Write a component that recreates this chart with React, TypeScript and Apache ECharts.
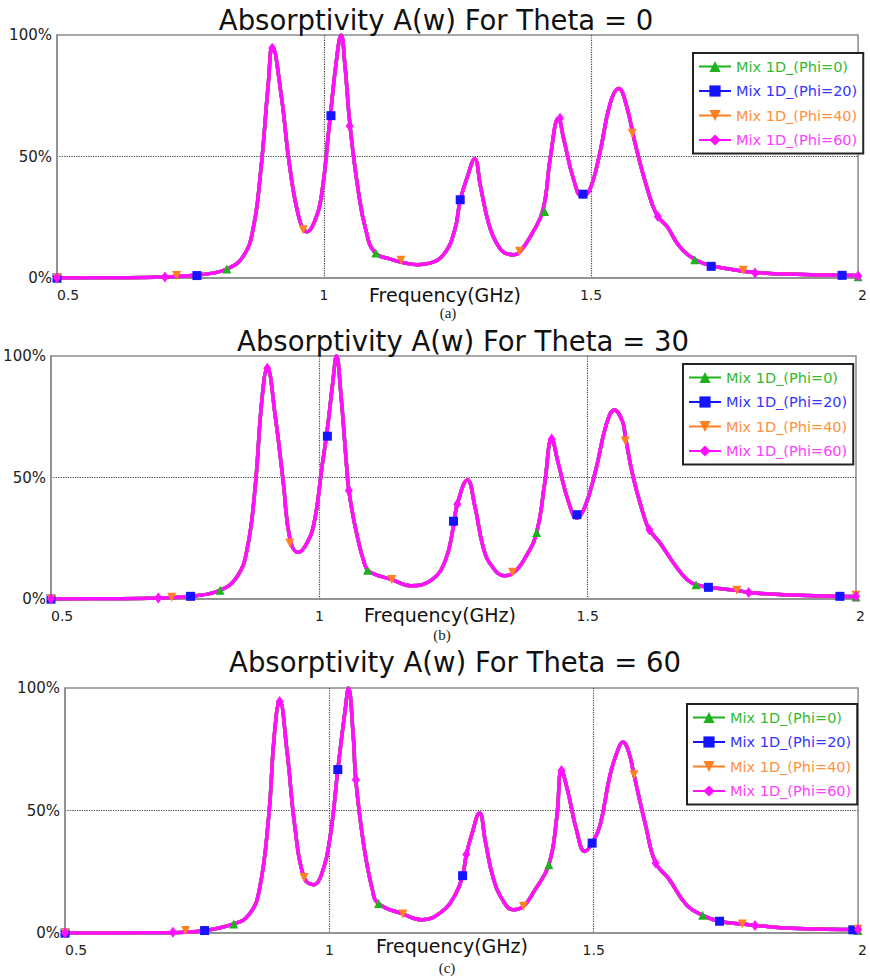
import React, { useEffect, useRef } from "react";
import * as echarts from "echarts";

// ---------- texts ----------
const seriesNames = ["Mix 1D_(Phi=0)", "Mix 1D_(Phi=20)", "Mix 1D_(Phi=40)", "Mix 1D_(Phi=60)"];
const panelTitles = [
  "Absorptivity A(w) For Theta = 0",
  "Absorptivity A(w) For Theta = 30",
  "Absorptivity A(w) For Theta = 60",
];
const panelCaptions = ["(a)", "(b)", "(c)"];
const xAxisTitle = "Frequency(GHz)";

// ---------- axes ----------
const freqMin = 0.5;
const freqMax = 2.0;
const freqStep = 0.5;
const absMin = 0;
const absMax = 100;
const absStep = 50;

// ---------- curves (frequency GHz, absorptivity %) ----------
const curveTheta0: [number, number][] = [
  [0.5, 0], [0.6, 0.1], [0.7, 0.4], [0.77, 1.4], [0.818, 3.7], [0.849, 9], [0.867, 20], [0.881, 43],
  [0.896, 81], [0.903, 95.5], [0.92, 75], [0.935, 47], [0.954, 24], [0.968, 19], [0.981, 22.6],
  [0.995, 33.6], [1.009, 61], [1.024, 91], [1.032, 100], [1.039, 88], [1.049, 62], [1.064, 36],
  [1.078, 20], [1.095, 10.5], [1.124, 7.8], [1.156, 6], [1.175, 5.5], [1.196, 6], [1.225, 10],
  [1.245, 20], [1.255, 32], [1.269, 42], [1.282, 49], [1.293, 37.7], [1.308, 22.6], [1.323, 14.4],
  [1.342, 10], [1.356, 9.6], [1.366, 10.5], [1.39, 18.5], [1.41, 28], [1.424, 50], [1.439, 65.7],
  [1.449, 57], [1.468, 40], [1.483, 33.6], [1.497, 36], [1.516, 51], [1.536, 72], [1.552, 78],
  [1.565, 72], [1.584, 54], [1.604, 37.7], [1.623, 26], [1.643, 21], [1.662, 14], [1.681, 9.6],
  [1.71, 6], [1.759, 3.7], [1.807, 2.3], [1.885, 1.5], [2.0, 1.0],
];
const curveTheta30: [number, number][] = [
  [0.5, 0], [0.6, 0.1], [0.7, 0.4], [0.76, 1.1], [0.815, 3.6], [0.847, 9.3], [0.865, 20], [0.88, 45],
  [0.893, 82], [0.903, 95], [0.918, 75], [0.933, 47.7], [0.945, 25], [0.96, 19.2], [0.975, 22.3],
  [0.99, 31], [1.005, 54.5], [1.015, 70], [1.025, 89], [1.032, 100], [1.04, 84.7], [1.05, 57],
  [1.055, 44.7], [1.068, 28.5], [1.085, 14], [1.095, 11], [1.135, 8], [1.17, 5.5], [1.21, 8],
  [1.235, 16], [1.25, 30], [1.257, 39], [1.276, 49], [1.29, 38], [1.305, 21.6], [1.32, 14],
  [1.345, 9.6], [1.36, 10.5], [1.385, 17.5], [1.405, 27.4], [1.42, 47.7], [1.433, 65.8], [1.445, 56],
  [1.465, 39.5], [1.48, 33.3], [1.495, 38], [1.515, 53], [1.535, 72], [1.55, 77.8], [1.565, 73],
  [1.57, 67], [1.585, 50], [1.605, 34], [1.615, 28.5], [1.635, 23], [1.66, 14.8], [1.685, 8],
  [1.702, 5.9], [1.725, 4.8], [1.778, 3.6], [1.8, 2.7], [1.88, 1.6], [1.97, 1.1], [2.0, 1.0],
];
const curveTheta60: [number, number][] = [
  [0.5, 0], [0.6, 0.05], [0.7, 0.1], [0.764, 1], [0.819, 3.7], [0.848, 7.5], [0.867, 17], [0.885, 47],
  [0.896, 81], [0.906, 94.8], [0.92, 74], [0.935, 43], [0.952, 22.7], [0.97, 19.7], [0.985, 23.8],
  [1.002, 40], [1.016, 66.7], [1.031, 93], [1.036, 100], [1.045, 81], [1.05, 62.6], [1.064, 37.4],
  [1.081, 18], [1.093, 12], [1.139, 7.8], [1.175, 5.4], [1.213, 8.8], [1.238, 15.6], [1.252, 23.4],
  [1.259, 32], [1.269, 40], [1.284, 49], [1.295, 37.4], [1.31, 22.4], [1.329, 13], [1.348, 9.5],
  [1.367, 10.9], [1.387, 17], [1.415, 27.9], [1.43, 47], [1.439, 66.3], [1.451, 57.8], [1.468, 41.5],
  [1.483, 33.3], [1.497, 36.7], [1.512, 44], [1.531, 64.6], [1.547, 75.5], [1.555, 78], [1.566, 74],
  [1.576, 64.6], [1.598, 44], [1.617, 28.6], [1.641, 22.4], [1.675, 11.6], [1.706, 7.2], [1.738, 4.8],
  [1.781, 3.7], [1.805, 3.1], [1.887, 1.8], [2.0, 1.4],
];

// ---------- marker points of each series ----------
const markersTheta0Phi0: [number, number][] = [[0.5, 0], [0.818, 3.7], [1.097, 10.3], [1.413, 27.4], [1.694, 7.5], [2.0, 0.5]];
const markersTheta0Phi20: [number, number][] = [[0.5, 0], [0.762, 1.0], [1.013, 66.8], [1.255, 32.2], [1.485, 34.5], [1.725, 4.8], [1.97, 1.1]];
const markersTheta0Phi40: [number, number][] = [[0.5, 0], [0.724, 1.0], [0.961, 19.9], [1.144, 7.3], [1.366, 11], [1.577, 59.6], [1.785, 3.2]];
const markersTheta0Phi60: [number, number][] = [[0.5, 0], [0.702, 0.4], [0.903, 94.5], [1.048, 62.6], [1.442, 65.7], [1.625, 25.3], [1.807, 2.1], [2.0, 0.8]];

const markersTheta30Phi0: [number, number][] = [[0.5, 0], [0.815, 3.6], [1.09, 11.8], [1.405, 27.4], [1.702, 5.9], [2.0, 0.8]];
const markersTheta30Phi20: [number, number][] = [[0.5, 0], [0.76, 1.1], [1.015, 67], [1.25, 32], [1.48, 34.7], [1.725, 4.8], [1.97, 1.1]];
const markersTheta30Phi40: [number, number][] = [[0.5, 0], [0.725, 0.7], [0.945, 23], [1.135, 8], [1.36, 11], [1.57, 65], [1.778, 3.6], [2.0, 1.5]];
const markersTheta30Phi60: [number, number][] = [[0.5, 0], [0.7, 0.4], [0.903, 95], [1.055, 44.7], [1.257, 39], [1.433, 65.8], [1.615, 28.5], [1.8, 2.7], [2.0, 1.0]];

const markersTheta60Phi0: [number, number][] = [[0.5, 0], [0.819, 3.7], [1.093, 12], [1.415, 27.9], [1.706, 7.2], [2.0, 1.0]];
const markersTheta60Phi20: [number, number][] = [[0.5, 0], [0.764, 1], [1.016, 66.7], [1.252, 23.4], [1.497, 36.7], [1.738, 4.8], [1.99, 1.3]];
const markersTheta60Phi40: [number, number][] = [[0.5, 0], [0.728, 1.0], [0.952, 22.7], [1.139, 7.8], [1.367, 10.9], [1.576, 64.6], [1.781, 3.7], [2.0, 1.5]];
const markersTheta60Phi60: [number, number][] = [[0.5, 0], [0.704, 0.3], [0.906, 94.5], [1.05, 62.6], [1.259, 32], [1.439, 66.3], [1.617, 28.6], [1.805, 3.1], [2.0, 1.4]];

const panelCurves = [curveTheta0, curveTheta30, curveTheta60];
const panelMarkers = [
  [markersTheta0Phi0, markersTheta0Phi20, markersTheta0Phi40, markersTheta0Phi60],
  [markersTheta30Phi0, markersTheta30Phi20, markersTheta30Phi40, markersTheta30Phi60],
  [markersTheta60Phi0, markersTheta60Phi20, markersTheta60Phi40, markersTheta60Phi60],
];

// ---------- styling ----------
const lineColors = ["#1fb21f", "#1414ff", "#ff8020", "#ff10ff"];
const textColors = ["#33bb33", "#3535ff", "#ff9040", "#ff40ff"];
const symbols = ["triangle", "rect", "triangle", "diamond"];
const symbolRotates = [0, 0, 180, 0];
const symbolSizes: any[] = [9, 9, 9, [8, 11]];

const layout = [
  { left: 57, top: 35, width: 805, height: 243, legendLeft: 693, legendTop: 53, titleX: 436, titleY: 20, capX: 445, capY: 295, subX: 448, subY: 313 },
  { left: 51, top: 356, width: 805, height: 243, legendLeft: 683, legendTop: 364, titleX: 463, titleY: 341, capX: 440, capY: 615, subX: 442, subY: 635 },
  { left: 65, top: 688, width: 805, height: 245, legendLeft: 687, legendTop: 704, titleX: 455, titleY: 662, capX: 452, capY: 946, subX: 447, subY: 968 },
];

const FONT = "DejaVu Sans";

export default function App() {
  const ref = useRef<HTMLDivElement>(null);
  useEffect(() => {
    if (!ref.current) return;
    const chart = echarts.init(ref.current, undefined, { renderer: "svg" });

    const grid = layout.map((l) => ({
      left: l.left, top: l.top, width: l.width, height: l.height,
      show: true, borderColor: "#8c8c8c", borderWidth: 1.5, backgroundColor: "transparent",
    }));

    const xAxis = layout.map((_, i) => ({
      type: "value", gridIndex: i, min: freqMin, max: freqMax, interval: freqStep,
      axisLine: { show: true, lineStyle: { color: "#8c8c8c", width: 1.5 } },
      axisTick: { show: false },
      axisLabel: { color: "#222", fontSize: 14, fontFamily: FONT, margin: 10, alignMinLabel: "left", alignMaxLabel: "left" },
      splitLine: { show: true, showMinLine: false, showMaxLine: false, lineStyle: { type: "dotted", color: "#444", width: 1.2 } },
    }));

    const yAxis = layout.map((_, i) => ({
      type: "value", gridIndex: i, min: absMin, max: absMax, interval: absStep,
      axisLine: { show: true, lineStyle: { color: "#8c8c8c", width: 1.5 } },
      axisTick: { show: false },
      axisLabel: { color: "#222", fontSize: 15, fontFamily: FONT, margin: 5, formatter: "{value}%" },
      splitLine: { show: true, showMinLine: false, showMaxLine: false, lineStyle: { type: "dotted", color: "#444", width: 1.2 } },
    }));

    const series: any[] = [];
    layout.forEach((_, p) => {
      seriesNames.forEach((name, s) => {
        series.push({
          type: "line", name, xAxisIndex: p, yAxisIndex: p,
          data: panelCurves[p],
          showSymbol: false, symbol: symbols[s], symbolSize: symbolSizes[s], symbolRotate: symbolRotates[s],
          smooth: 0.45, silent: true,
          lineStyle: { color: lineColors[s], width: 3.5 },
          itemStyle: { color: lineColors[s] },
          z: 2 + s * 0.1,
          markPoint: {
            silent: true, symbol: symbols[s], symbolSize: symbolSizes[s], symbolRotate: symbolRotates[s],
            label: { show: false }, itemStyle: { color: lineColors[s] },
            data: panelMarkers[p][s].map((c) => ({ coord: c })),
          },
        });
      });
    });

    const legend = layout.map((l) => ({
      left: l.legendLeft, top: l.legendTop, orient: "vertical",
      itemWidth: 32, itemHeight: 14, itemGap: 9.5, padding: [6, 6, 6, 5],
      backgroundColor: "#fff", borderColor: "#222", borderWidth: 2,
      selectedMode: false,
      textStyle: { fontSize: 14.5, fontFamily: FONT, lineHeight: 14 },
      data: seriesNames.map((n, k) => ({ name: n, textStyle: { color: textColors[k] } })),
    }));

    const graphic: any[] = [];
    layout.forEach((l, i) => {
      graphic.push({ type: "text", x: l.titleX, y: l.titleY, silent: true,
        style: { text: panelTitles[i], fontSize: 27.5, fontFamily: FONT, fill: "#111", align: "center", verticalAlign: "middle" } });
      graphic.push({ type: "text", x: l.capX, y: l.capY, silent: true,
        style: { text: xAxisTitle, fontSize: 19, fontFamily: FONT, fill: "#111", align: "center", verticalAlign: "middle" } });
      graphic.push({ type: "text", x: l.subX, y: l.subY, silent: true,
        style: { text: panelCaptions[i], fontSize: 15, fontFamily: "Liberation Serif", fill: "#222", align: "center", verticalAlign: "middle" } });
    });

    chart.setOption({
      animation: false,
      backgroundColor: "#fff",
      grid, xAxis, yAxis, series, legend, graphic,
    });
    return () => chart.dispose();
  }, []);

  return <div ref={ref} style={{ position: "fixed", left: 0, top: 0, width: 870, height: 979 }} />;
}
